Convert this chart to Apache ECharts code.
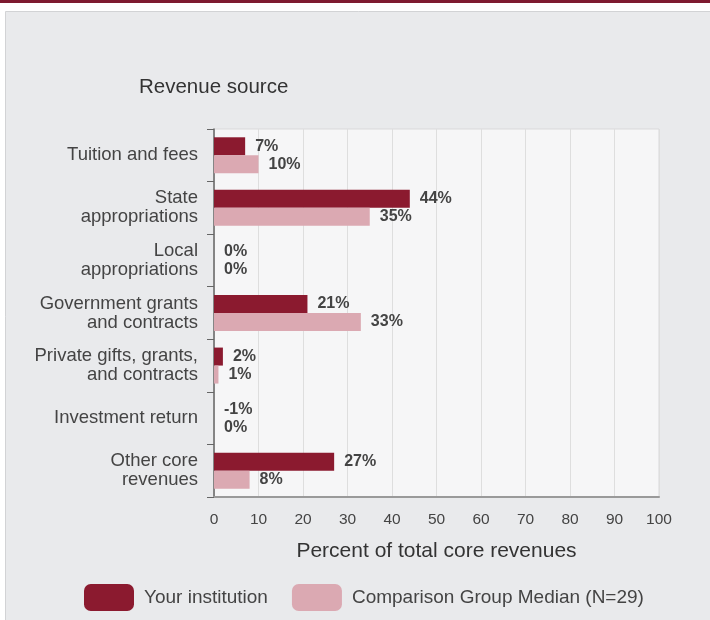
<!DOCTYPE html>
<html>
<head>
<meta charset="utf-8">
<script src="https://cdn.jsdelivr.net/npm/echarts@6/dist/echarts.min.js"></script>
<style>
html,body{margin:0;padding:0;background:#ffffff;}
#c{width:710px;height:620px;}
</style>
</head>
<body>
<div id="c"></div>
<script>
var categories = [
  'Tuition and fees',
  'State\nappropriations',
  'Local\nappropriations',
  'Government grants\nand contracts',
  'Private gifts, grants,\nand contracts',
  'Investment return',
  'Other core\nrevenues'
];
var seriesNames = ['Your institution', 'Comparison Group Median (N=29)'];
var yourInstitution = [7, 44, 0, 21, 2, -1, 27];
var comparisonMedian = [10, 35, 0, 33, 1, 0, 8];
var xTicks = [0, 10, 20, 30, 40, 50, 60, 70, 80, 90, 100];

var chart = echarts.init(document.getElementById('c'), null, {renderer: 'canvas'});
var FONT = '"Liberation Sans", Arial, sans-serif';
var labelCfg = {
  show: true, position: 'right', distance: 10,
  formatter: '{c}%', color: '#444', fontSize: 16, fontWeight: 'bold', fontFamily: FONT
};
chart.setOption({
  animation: false,
  backgroundColor: '#ffffff',
  graphic: [
    {type: 'rect', silent: true, z: -10, shape: {x: 0, y: 0, width: 710, height: 3}, style: {fill: '#7e1a30'}},
    {type: 'rect', silent: true, z: -10, shape: {x: 5.5, y: 11.5, width: 720, height: 620}, style: {fill: '#e9eaec', stroke: '#d2d3d5', lineWidth: 1}}
  ],
  title: {
    text: 'Revenue source', left: 134, top: 72,
    textStyle: {fontSize: 20.5, fontWeight: 'normal', color: '#333', fontFamily: FONT}
  },
  legend: {
    left: 79, top: 579, itemWidth: 50, itemHeight: 27, itemGap: 24,
    icon: 'roundRect',
    data: seriesNames,
    textStyle: {fontSize: 19, color: '#444', fontFamily: FONT, padding: [0, 0, 0, 5]}
  },
  grid: {
    left: 214, right: 51, top: 129, bottom: 123,
    show: true, backgroundColor: '#f6f6f7', borderColor: '#d9d9db', borderWidth: 1
  },
  xAxis: {
    type: 'value', min: 0, max: 100, interval: 10,
    name: 'Percent of total core revenues', nameLocation: 'middle', nameGap: 44,
    nameTextStyle: {fontSize: 21, color: '#333', fontFamily: FONT},
    axisLine: {show: true, lineStyle: {color: '#9a9a9a', width: 2}},
    axisTick: {show: false},
    splitLine: {show: true, lineStyle: {color: '#dedede', width: 1}},
    axisLabel: {
      margin: 15, fontSize: 15.5, color: '#444', fontFamily: FONT,
      customValues: xTicks
    }
  },
  yAxis: {
    type: 'category', inverse: true, data: categories,
    axisLine: {show: true, lineStyle: {color: '#666', width: 1.5}},
    axisTick: {show: true, length: 7, lineStyle: {color: '#666'}},
    axisLabel: {margin: 16, fontSize: 18.5, color: '#444', lineHeight: 19, fontFamily: FONT}
  },
  series: [
    {
      name: seriesNames[0], type: 'bar', data: yourInstitution,
      barWidth: 18, barGap: '0%',
      itemStyle: {color: '#8b1a2f'},
      label: labelCfg
    },
    {
      name: seriesNames[1], type: 'bar', data: comparisonMedian,
      barWidth: 18, barGap: '0%',
      itemStyle: {color: '#dba9b2'},
      label: labelCfg
    }
  ]
});
</script>
</body>
</html>
